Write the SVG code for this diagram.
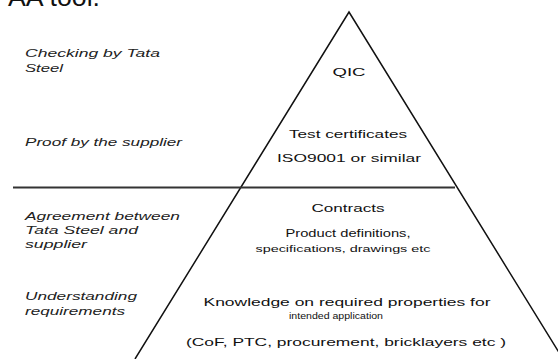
<svg xmlns="http://www.w3.org/2000/svg" width="558" height="359" viewBox="0 0 558 359">
<style>
.t{font-family:"Liberation Sans",Arial,sans-serif;fill:#111}
.l{font-style:italic;font-size:11px;fill:#222}
.r{font-size:11px;text-anchor:middle}
.s{font-size:9px;text-anchor:middle}
</style>
<rect width="558" height="359" fill="#fff"/>
<text class="t" x="8" y="6" font-size="26" textLength="92" lengthAdjust="spacingAndGlyphs">AA tool.</text>
<g id="connectors" fill="none" stroke="#111">
<polyline points="135,359 349,12 563,359" stroke-width="1.5"/>
<line x1="13" y1="187.5" x2="455" y2="187.5" stroke="#333" stroke-width="2"/>
</g>
<g id="left-labels">
<g id="lbl-checking"><text class="t l" x="25" y="57" textLength="135" lengthAdjust="spacingAndGlyphs">Checking by Tata</text><text class="t l" x="25" y="72" textLength="38" lengthAdjust="spacingAndGlyphs">Steel</text></g>
<g id="lbl-proof"><text class="t l" x="25" y="146" textLength="157" lengthAdjust="spacingAndGlyphs">Proof by the supplier</text></g>
<g id="lbl-agreement"><text class="t l" x="25" y="220" textLength="155" lengthAdjust="spacingAndGlyphs">Agreement between</text><text class="t l" x="25" y="234" textLength="113" lengthAdjust="spacingAndGlyphs">Tata Steel and</text><text class="t l" x="25" y="248" textLength="62" lengthAdjust="spacingAndGlyphs">supplier</text></g>
<g id="lbl-understanding"><text class="t l" x="25" y="300" textLength="112" lengthAdjust="spacingAndGlyphs">Understanding</text><text class="t l" x="25" y="315" textLength="100" lengthAdjust="spacingAndGlyphs">requirements</text></g>
</g>
<g id="level-qic"><text class="t r" x="349" y="76" font-size="14" textLength="33" lengthAdjust="spacingAndGlyphs">QIC</text></g>
<g id="level-certificates"><text class="t r" x="348" y="138" textLength="118" lengthAdjust="spacingAndGlyphs">Test certificates</text><text class="t r" x="349" y="162" textLength="144" lengthAdjust="spacingAndGlyphs">ISO9001 or similar</text></g>
<g id="level-contracts"><text class="t r" x="348" y="212" textLength="73" lengthAdjust="spacingAndGlyphs">Contracts</text><text class="t r" x="348" y="237" textLength="125" lengthAdjust="spacingAndGlyphs">Product definitions,</text><text class="t s" x="343" y="252" textLength="175" lengthAdjust="spacingAndGlyphs">specifications, drawings etc</text></g>
<g id="level-knowledge"><text class="t r" x="347" y="306" textLength="287" lengthAdjust="spacingAndGlyphs">Knowledge on required properties for</text><text class="t s" x="336" y="319" textLength="94" lengthAdjust="spacingAndGlyphs">intended application</text><text class="t r" x="346" y="346" textLength="320" lengthAdjust="spacingAndGlyphs">(CoF, PTC, procurement, bricklayers etc )</text></g>
</svg>
